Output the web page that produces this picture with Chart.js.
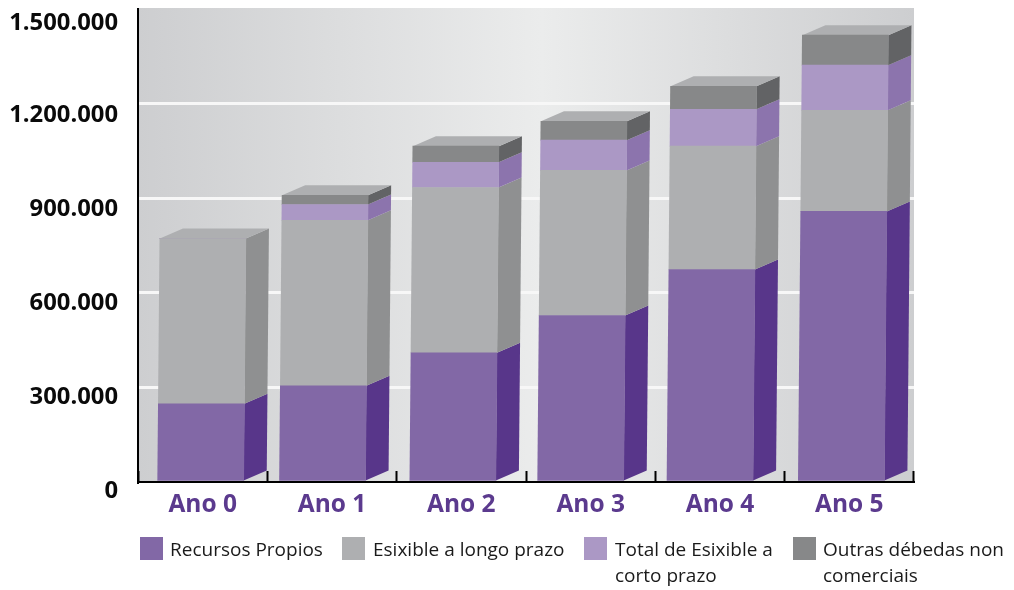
<!DOCTYPE html>
<html>
<head>
<meta charset="utf-8">
<title>Ano 0 - Ano 5</title>
<script src="https://cdn.jsdelivr.net/npm/chart.js@4/dist/chart.umd.min.js"></script>
<style>
  html, body { margin: 0; padding: 0; background: #fff; }
  #wrap { position: relative; width: 1014px; height: 590px; overflow: hidden; }
  #chart { position: absolute; left: 0; top: 0; }
  .key { position: absolute; top: 537px; font: 19px/26px "Open Sans", sans-serif; color: #1a1a1a; white-space: nowrap; }
  .key i { position: absolute; left: 0; top: 0; width: 23px; height: 23px; }
  .key span { position: absolute; top: -1px; }
</style>
</head>
<body>
<div id="wrap">
  <canvas id="chart" width="1014" height="590"></canvas>
</div>
<script>
const categories = ['Ano 0', 'Ano 1', 'Ano 2', 'Ano 3', 'Ano 4', 'Ano 5'];
const tickLabels = ['0', '300.000', '600.000', '900.000', '1.200.000', '1.500.000'];

const recursosPropios = [248000, 305000, 410000, 528000, 674000, 858000];
const esixibleLongo = [524000, 525000, 524000, 460000, 391000, 321000];
const esixibleCorto = [0, 50000, 80000, 96000, 117000, 143000];
const outrasDebedas = [0, 29000, 51000, 60000, 73000, 95000];

const seriesNames = [
  ['Recursos Propios'],
  ['Esixible a longo prazo'],
  ['Total de Esixible a', 'corto prazo'],
  ['Outras débedas non', 'comerciais'],
];

const frontColors = ['#8268a6', '#aeafb1', '#ab98c5', '#878889'];
const sideColors = ['#58368a', '#8f9091', '#8c74ad', '#626365'];
const topColor = '#aeafb1';

const DEPTH_X = 23;
const DEPTH_Y = 10;
const LEAN = 0.009; // bars tilt a little to the right as they rise
const BASE_Y = 481;

// category shift of each column, the columns sit left of their slot
const columnShift = [-2, -9.5, -8.5, -10, -10, -8];

const prism = {
  id: 'prism',
  afterDatasetsUpdate(chart) {
    chart.data.datasets.forEach((ds, d) => {
      chart.getDatasetMeta(d).data.forEach((bar, i) => { bar.x += columnShift[i]; });
    });
  },
  beforeDatasetsDraw(chart) {
    const ctx = chart.ctx;
    ctx.save();
    ctx.transform(1, 0, -LEAN, 1, LEAN * BASE_Y, 0);
    const poly = (color, pts) => {
      ctx.fillStyle = color;
      ctx.beginPath();
      pts.forEach((p, n) => (n ? ctx.lineTo(p[0], p[1]) : ctx.moveTo(p[0], p[1])));
      ctx.closePath();
      ctx.fill();
    };
    categories.forEach((c, i) => {
      let last = null;
      chart.data.datasets.forEach((ds, d) => {
        const bar = chart.getDatasetMeta(d).data[i];
        if (!ds.data[i]) return;
        const r = bar.x + bar.width / 2;
        poly(sideColors[d], [
          [r, bar.base], [r + DEPTH_X, bar.base - DEPTH_Y],
          [r + DEPTH_X, bar.y - DEPTH_Y], [r, bar.y],
        ]);
        last = bar;
      });
      const l = last.x - last.width / 2;
      const r = last.x + last.width / 2;
      poly(topColor, [
        [l, last.y], [l + DEPTH_X, last.y - DEPTH_Y],
        [r + DEPTH_X, last.y - DEPTH_Y], [r, last.y],
      ]);
    });
  },
  afterDatasetsDraw(chart) {
    chart.ctx.restore();
  },
};

// panel shading behind the grid
const panel = {
  id: 'panel',
  beforeDraw(chart) {
    const { ctx, chartArea: a } = chart;
    const g = ctx.createLinearGradient(a.left, 0, a.right, 0);
    g.addColorStop(0, '#cdced0');
    g.addColorStop(0.52, '#ebecec');
    g.addColorStop(1, '#cdced0');
    ctx.fillStyle = g;
    ctx.fillRect(a.left, a.top - 1, a.right - a.left, a.bottom - a.top + 1);
  },
};

// value labels sit under their gridline, more so toward the top of the axis
const yLabelDrop = [9.5, 9.5, 10, 11, 12, 14];
const yLabels = {
  id: 'yLabels',
  afterDraw(chart) {
    const { ctx, scales: { y } } = chart;
    ctx.save();
    ctx.font = 'bold 23.8px "Open Sans", sans-serif';
    ctx.fillStyle = '#0a0a0a';
    ctx.textAlign = 'right';
    ctx.textBaseline = 'middle';
    y.ticks.forEach((t, i) => {
      ctx.fillText(tickLabels[i], 118, y.getPixelForTick(i) + yLabelDrop[i]);
    });
    ctx.restore();
  },
};

const datasets = [recursosPropios, esixibleLongo, esixibleCorto, outrasDebedas].map((data, i) => ({
  label: seriesNames[i].join(' '),
  data,
  backgroundColor: frontColors[i],
  barThickness: 86,
  clip: false,
}));

new Chart(document.getElementById('chart'), {
  type: 'bar',
  data: { labels: categories, datasets },
  plugins: [panel, prism, yLabels],
  options: {
    responsive: false,
    animation: false,
    layout: { padding: { top: 9, right: 100, left: 0, bottom: 0 } },
    plugins: { legend: { display: false }, tooltip: { enabled: false } },
    scales: {
      x: {
        stacked: true,
        afterFit(scale) { scale.height = 108; },
        border: { color: '#000', width: 2 },
        grid: { drawOnChartArea: false, color: '#000', tickColor: '#000', tickWidth: 2, tickLength: -11 },
        ticks: {
          color: '#5b3a8e',
          font: { family: '"Open Sans", sans-serif', size: 24.5, weight: 'bold' },
          padding: 19,
          maxRotation: 0,
        },
      },
      y: {
        stacked: true,
        min: 0,
        max: 1500000,
        afterFit(scale) { scale.width = 138; },
        border: { color: '#000', width: 2 },
        grid: {
          drawTicks: false,
          lineWidth: 3,
          color: ctx => (ctx.index === 0 || ctx.index === tickLabels.length - 1 ? 'rgba(0,0,0,0)' : '#f7f7f7'),
        },
        ticks: { stepSize: 300000, display: false },
      },
    },
  },
});

// series key under the chart
const keyLefts = [140, 342, 584, 793];
const textLefts = [30, 31, 31, 30];
const wrap = document.getElementById('wrap');
seriesNames.forEach((lines, i) => {
  const key = document.createElement('div');
  key.className = 'key';
  key.style.left = keyLefts[i] + 'px';
  const box = document.createElement('i');
  box.style.background = frontColors[i];
  key.appendChild(box);
  const text = document.createElement('span');
  text.style.left = textLefts[i] + 'px';
  text.innerHTML = lines.join('<br>');
  key.appendChild(text);
  wrap.appendChild(key);
});
</script>
</body>
</html>
